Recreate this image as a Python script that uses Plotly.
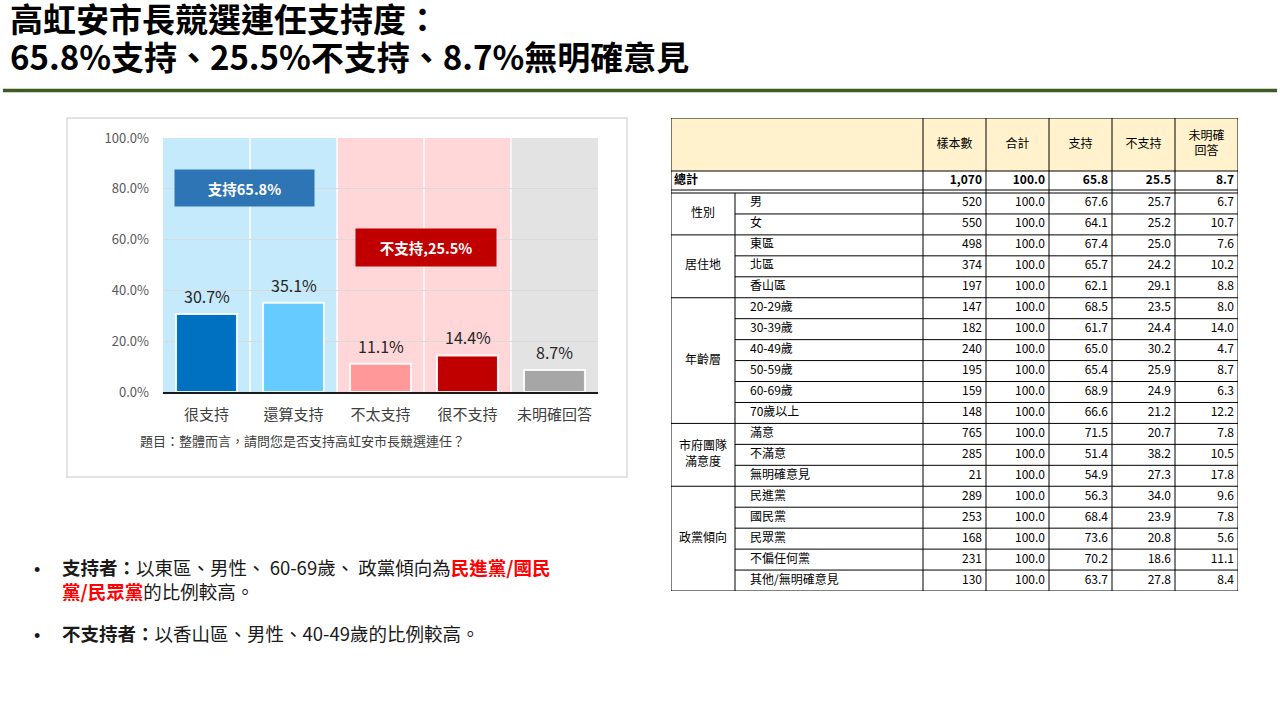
import plotly.graph_objects as go

# ---------------- data ----------------
title_line1 = "高虹安市長競選連任支持度："
categories = ["很支持", "還算支持", "不太支持", "很不支持", "未明確回答"]
values = [30.7, 35.1, 11.1, 14.4, 8.7]
question = "題目：整體而言，請問您是否支持高虹安市長競選連任？"
y_ticks = [0, 20, 40, 60, 80, 100]

table_cols = ["樣本數", "合計", "支持", "不支持", "未明確<br>回答"]
total_row = ["1,070", "100.0", "65.8", "25.5", "8.7"]
groups = ["性別", "居住地", "年齡層", "市府團隊<br>滿意度", "政黨傾向"]
group_sizes = [2, 3, 6, 3, 5]
subgroups = ["男", "女", "東區", "北區", "香山區",
             "20-29歲", "30-39歲", "40-49歲", "50-59歲", "60-69歲", "70歲以上",
             "滿意", "不滿意", "無明確意見",
             "民進黨", "國民黨", "民眾黨", "不偏任何黨", "其他/無明確意見"]
sample_n = [520, 550, 498, 374, 197, 147, 182, 240, 195, 159, 148, 765, 285, 21, 289, 253, 168, 231, 130]
total_pct = [100.0] * 19
support = [67.6, 64.1, 67.4, 65.7, 62.1, 68.5, 61.7, 65.0, 65.4, 68.9, 66.6, 71.5, 51.4, 54.9, 56.3, 68.4, 73.6, 70.2, 63.7]
oppose = [25.7, 25.2, 25.0, 24.2, 29.1, 23.5, 24.4, 30.2, 25.9, 24.9, 21.2, 20.7, 38.2, 27.3, 34.0, 23.9, 20.8, 18.6, 27.8]
no_opinion = [6.7, 10.7, 7.6, 10.2, 8.8, 8.0, 14.0, 4.7, 8.7, 6.3, 12.2, 7.8, 10.5, 17.8, 9.6, 7.8, 5.6, 11.1, 8.4]

# ---------------- style ----------------
FONT = "Noto Sans CJK TC"
W, H = 1280, 720
bar_colors = ["#0070C0", "#66CCFF", "#FF9999", "#C00000", "#A6A6A6"]
band_colors = ["#C5EAFB", "#FFD7D9", "#E3E3E3"]
band_spans = [(0, 1), (2, 3), (4, 4)]


def px(x):
    return x / W


def py(y):
    return 1 - y / H


support_total = round(values[0] + values[1], 1)
oppose_total = round(values[2] + values[3], 1)

fig = go.Figure()

# ---------------- bar chart ----------------
fig.add_trace(go.Bar(
    x=categories, y=values, width=0.7,
    marker=dict(color=bar_colors, line=dict(color="rgba(255,255,255,0.9)", width=2)),
    xaxis="x", yaxis="y", showlegend=False, hoverinfo="skip",
))

shapes = []
shapes.append(dict(type="rect", xref="paper", yref="paper", x0=px(67), x1=px(627), y0=py(477), y1=py(118),
                   line=dict(color="#D9D9D9", width=1.5), fillcolor="white", layer="below"))
for (a, b), c in zip(band_spans, band_colors):
    shapes.append(dict(type="rect", xref="x", yref="y", x0=a - 0.5, x1=b + 0.5, y0=0, y1=100,
                       fillcolor=c, line=dict(width=0), layer="below"))
for i in range(len(categories) - 1):
    shapes.append(dict(type="line", xref="x", yref="y", x0=i + 0.5, x1=i + 0.5, y0=0, y1=100,
                       line=dict(color="white", width=1.5), layer="below"))

annotations = []
# value labels above bars
for c, v in zip(categories, values):
    annotations.append(dict(x=c, y=v, xref="x", yref="y", text=f"{v:.1f}%", showarrow=False,
                            yanchor="middle", yshift=18, font=dict(family=FONT, size=16, color="#262626")))
annotations.append(dict(x=0.437, y=80.3, xref="x", yref="y", text=f"<b>支持{support_total:.1f}%</b>",
                        showarrow=False, bgcolor="#2E75B6", width=137, height=34,
                        font=dict(family=FONT, size=14.5, color="white")))
annotations.append(dict(x=2.523, y=56.9, xref="x", yref="y", text=f"<b>不支持,{oppose_total:.1f}%</b>",
                        showarrow=False, bgcolor="#C00000", width=138, height=35,
                        font=dict(family=FONT, size=14.5, color="white")))
annotations.append(dict(x=px(138), y=py(440), xref="paper", yref="paper", text=question, showarrow=False,
                        xanchor="left", yanchor="middle", font=dict(family=FONT, size=13, color="#404040")))

# ---------------- title ----------------
title_line2 = f"<b>{support_total:.1f}%支持、{oppose_total:.1f}%不支持、{values[4]:.1f}%無明確意見</b>"
for txt, yc in [(f"<b>{title_line1}</b>", 17.5), (title_line2, 55.5)]:
    annotations.append(dict(x=px(9), y=py(yc), xref="paper", yref="paper", text=txt,
                            showarrow=False, xanchor="left", yanchor="middle", height=36, borderpad=0,
                            font=dict(family=FONT, size=33, color="black")))
shapes.append(dict(type="line", xref="paper", yref="paper", x0=px(3), x1=px(1277), y0=py(90.5), y1=py(90.5),
                   line=dict(color="#3D5A22", width=3.5)))

# ---------------- bullets ----------------
BFS = 18.5
bullet_font = dict(family=FONT, size=BFS, color="#1a1a1a")
bullet_blocks = [
    (568.5, 2, "<b>支持者：</b>以東區、男性、 60-69歲、 政黨傾向為<span style='color:#FF0000'><b>民進黨/國民</b></span>"
               "<br><span style='color:#FF0000'><b>黨/民眾黨</b></span>的比例較高。"),
    (634.5, 1, "<b>不支持者：</b>以香山區、男性、40-49歲的比例較高。"),
]
for y_first, n_lines, txt in bullet_blocks:
    annotations.append(dict(x=px(33), y=py(y_first + 1), xref="paper", yref="paper", text="•", showarrow=False,
                            xanchor="left", yanchor="middle", borderpad=0,
                            font=dict(family="Liberation Sans", size=18, color="#1a1a1a")))
    block_center = y_first - 1.5 + (n_lines - 1) * BFS * 1.3 / 2
    annotations.append(dict(x=px(61), y=py(block_center), xref="paper", yref="paper", text=txt, showarrow=False,
                            xanchor="left", yanchor="middle", align="left", borderpad=0, font=bullet_font))

# ---------------- table (own axes: x in px units, y in px units reversed) ----------------
col_edges = [0, 64, 252, 315, 378, 441, 504, 567]
header_h = 53
total_h = 19
gap = 3
n_rows = len(subgroups)
table_h = 473
row_h = (table_h - header_h - total_h - gap) / n_rows
data_top = header_h + total_h + gap
LINE = dict(color="black", width=1)

def row_top(i):
    return data_top + i * row_h

shapes.append(dict(type="rect", xref="x2", yref="y2", x0=0, x1=col_edges[-1], y0=0, y1=header_h,
                   fillcolor="#FFF2CC", line=dict(width=0), layer="below"))
for yv in [0, header_h, header_h + total_h, data_top, table_h]:
    shapes.append(dict(type="line", xref="x2", yref="y2", x0=0, x1=col_edges[-1], y0=yv, y1=yv, line=LINE))
for xe in [0] + col_edges[2:]:
    shapes.append(dict(type="line", xref="x2", yref="y2", x0=xe, x1=xe, y0=0, y1=table_h, line=LINE))
shapes.append(dict(type="line", xref="x2", yref="y2", x0=col_edges[1], x1=col_edges[1], y0=data_top, y1=table_h, line=LINE))
start = 0
group_bounds = []
for g in group_sizes:
    group_bounds.append((start, start + g))
    start += g
for gi, (s, e) in enumerate(group_bounds):
    if gi > 0:
        yv = row_top(s)
        shapes.append(dict(type="line", xref="x2", yref="y2", x0=0, x1=col_edges[-1], y0=yv, y1=yv, line=LINE))
    for r in range(s + 1, e):
        yv = row_top(r)
        shapes.append(dict(type="line", xref="x2", yref="y2", x0=col_edges[1], x1=col_edges[-1], y0=yv, y1=yv, line=LINE))

tfont = dict(family=FONT, size=12, color="black")
hx = [(col_edges[i] + col_edges[i + 1]) / 2 for i in range(2, 7)]
fig.add_trace(go.Scatter(x=hx, y=[header_h / 2] * 5, text=table_cols, mode="text", textposition="middle center",
                         textfont=tfont, xaxis="x2", yaxis="y2", showlegend=False, hoverinfo="skip"))
ty = header_h + total_h / 2
fig.add_trace(go.Scatter(x=[3], y=[ty], text=["<b>總計</b>"], mode="text", textposition="middle right",
                         textfont=tfont, xaxis="x2", yaxis="y2", showlegend=False, hoverinfo="skip"))
fig.add_trace(go.Scatter(x=[col_edges[i + 1] - 4 for i in range(2, 7)], y=[ty] * 5,
                         text=[f"<b>{t}</b>" for t in total_row], mode="text", textposition="middle left",
                         textfont=tfont, xaxis="x2", yaxis="y2", showlegend=False, hoverinfo="skip"))
fig.add_trace(go.Scatter(x=[col_edges[1] / 2] * len(groups),
                         y=[(row_top(s) + row_top(e)) / 2 for s, e in group_bounds],
                         text=groups, mode="text", textposition="middle center", textfont=tfont,
                         xaxis="x2", yaxis="y2", showlegend=False, hoverinfo="skip"))
ry = [row_top(i) + row_h / 2 for i in range(n_rows)]
fig.add_trace(go.Scatter(x=[col_edges[1] + 15] * n_rows, y=ry, text=subgroups, mode="text",
                         textposition="middle right", textfont=tfont, xaxis="x2", yaxis="y2",
                         showlegend=False, hoverinfo="skip"))
for ci, col in enumerate([sample_n, total_pct, support, oppose, no_opinion]):
    txt = [f"{v:,}" if ci == 0 else f"{v:.1f}" for v in col]
    fig.add_trace(go.Scatter(x=[col_edges[ci + 3] - 4] * n_rows, y=ry, text=txt, mode="text",
                             textposition="middle left", textfont=tfont, xaxis="x2", yaxis="y2",
                             showlegend=False, hoverinfo="skip"))

fig.update_layout(
    width=W, height=H, margin=dict(l=0, r=0, t=0, b=0, pad=0, autoexpand=False),
    paper_bgcolor="white", plot_bgcolor="rgba(0,0,0,0)",
    font=dict(family=FONT),
    shapes=shapes, annotations=annotations, bargap=0.3,
    xaxis=dict(domain=[px(163), px(598)], type="category", categoryorder="array", categoryarray=categories,
               showline=True, linecolor="#1a1a1a", linewidth=2, showgrid=False, zeroline=False, automargin=False,
               tickfont=dict(family=FONT, size=15, color="#404040"), ticklabelstandoff=8, fixedrange=True),
    yaxis=dict(domain=[py(392), py(138)], range=[0, 100], tickvals=y_ticks, automargin=False,
               ticktext=[f"{v:.1f}%" for v in y_ticks], showgrid=True, gridcolor="#DADADA", gridwidth=1,
               zeroline=False, showline=False, tickfont=dict(family=FONT, size=13, color="#595959"),
               ticklabelstandoff=13, fixedrange=True),
    xaxis2=dict(domain=[px(671), px(1238)], range=[0, 567], visible=False, fixedrange=True, automargin=False),
    yaxis2=dict(domain=[py(591), py(118)], range=[473, 0], visible=False, fixedrange=True, automargin=False),
)

fig.write_html("out.html", config={"displayModeBar": False},
               post_script="document.body.style.margin='0';")
